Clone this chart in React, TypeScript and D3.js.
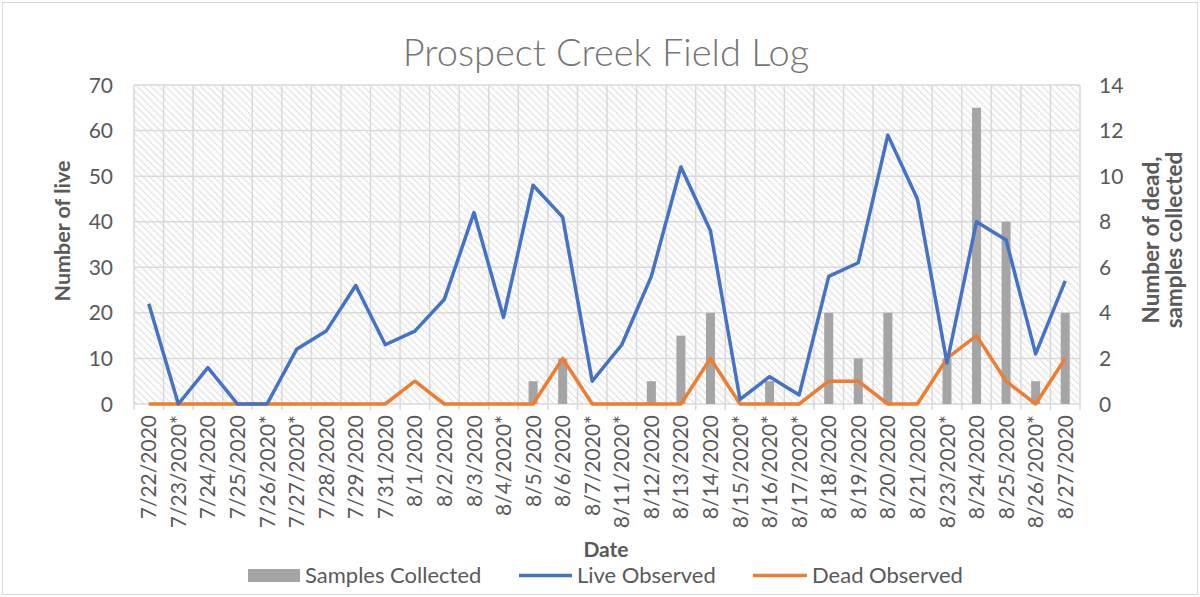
import React from "react";
import * as d3 from "d3";

// chart values
const dates = [
  "7/22/2020", "7/23/2020*", "7/24/2020", "7/25/2020", "7/26/2020*", "7/27/2020*",
  "7/28/2020", "7/29/2020", "7/31/2020", "8/1/2020", "8/2/2020", "8/3/2020",
  "8/4/2020*", "8/5/2020", "8/6/2020", "8/7/2020*", "8/11/2020*", "8/12/2020",
  "8/13/2020", "8/14/2020", "8/15/2020*", "8/16/2020*", "8/17/2020*", "8/18/2020",
  "8/19/2020", "8/20/2020", "8/21/2020", "8/23/2020*", "8/24/2020", "8/25/2020",
  "8/26/2020*", "8/27/2020",
];
const liveObserved = [
  22, 0, 8, 0, 0, 12, 16, 26, 13, 16, 23, 42, 19, 48, 41, 5,
  13, 28, 52, 38, 1, 6, 2, 28, 31, 59, 45, 9, 40, 36, 11, 27,
];
const deadObserved = [
  0, 0, 0, 0, 0, 0, 0, 0, 0, 1, 0, 0, 0, 0, 2, 0,
  0, 0, 0, 2, 0, 0, 0, 1, 1, 0, 0, 2, 3, 1, 0, 2,
];
const samplesCollected = [
  0, 0, 0, 0, 0, 0, 0, 0, 0, 0, 0, 0, 0, 1, 2, 0,
  0, 1, 3, 4, 0, 1, 0, 4, 2, 4, 0, 2, 13, 8, 1, 4,
];
const leftTicks = [0, 10, 20, 30, 40, 50, 60, 70];
const rightTicks = [0, 2, 4, 6, 8, 10, 12, 14];

const W = 1200;
const H = 597;
const plot = { left: 134, right: 1080, top: 85, bottom: 404 };
const FONT = "Lato, 'Open Sans', sans-serif";
const TEXT = "#595959";
const GRID = "#d9d9d9";

export default function App() {
  const x = d3.scaleBand().domain(dates).range([plot.left, plot.right]).padding(0);
  const yLeft = d3.scaleLinear().domain([0, 70]).range([plot.bottom, plot.top]);
  const yRight = d3.scaleLinear().domain([0, 14]).range([plot.bottom, plot.top]);
  const cx = (d: string) => (x(d) as number) + x.bandwidth() / 2;

  const liveLine = d3
    .line<number>()
    .x((_, i) => cx(dates[i]))
    .y((v) => yLeft(v));
  const deadLine = d3
    .line<number>()
    .x((_, i) => cx(dates[i]))
    .y((v) => yRight(v));

  const barW = 9;
  const boundaries = d3.range(dates.length + 1).map((i) => plot.left + i * x.step());

  return (
    <svg
      width={W}
      height={H}
      style={{ position: "absolute", left: 0, top: 0, background: "#fff" }}
      fontFamily={FONT}
    >
      <defs>
        <pattern
          id="hatch"
          width={5}
          height={5}
          patternUnits="userSpaceOnUse"
          patternTransform="rotate(-45)"
        >
          <line x1={1} y1={0} x2={1} y2={5} stroke="#d2d2d2" strokeWidth={1.4} strokeDasharray="1.5 1" />
        </pattern>
      </defs>

      {/* chart frame */}
      <rect x={2.5} y={2.5} width={W - 5} height={H - 5} fill="#fff" stroke={GRID} strokeWidth={1} />

      {/* title */}
      <text x={606} y={66} textAnchor="middle" fontSize={38} fontWeight={300} fill="#757575">
        Prospect Creek Field Log
      </text>

      {/* plot background */}
      <rect
        x={plot.left}
        y={plot.top}
        width={plot.right - plot.left}
        height={plot.bottom - plot.top}
        fill="url(#hatch)"
      />

      {/* gridlines */}
      {leftTicks.map((t) => (
        <line key={"h" + t} x1={plot.left} x2={plot.right} y1={yLeft(t)} y2={yLeft(t)} stroke={GRID} strokeWidth={1.5} />
      ))}
      {boundaries.map((bx, i) => (
        <line key={"v" + i} x1={bx} x2={bx} y1={plot.top} y2={plot.bottom + 6} stroke={GRID} strokeWidth={1.5} />
      ))}

      {/* bars */}
      {samplesCollected.map((v, i) =>
        v > 0 ? (
          <rect
            key={"b" + i}
            x={cx(dates[i]) - barW / 2}
            y={yRight(v)}
            width={barW}
            height={plot.bottom - yRight(v)}
            fill="#a5a5a5"
          />
        ) : null
      )}

      {/* lines */}
      <path d={deadLine(deadObserved) || ""} fill="none" stroke="#ed7d31" strokeWidth={3.5} strokeLinejoin="round" />
      <path d={liveLine(liveObserved) || ""} fill="none" stroke="#4472c4" strokeWidth={3.5} strokeLinejoin="round" />

      {/* left axis */}
      {leftTicks.map((t) => (
        <text key={"l" + t} x={113} y={yLeft(t)} dy="0.36em" textAnchor="end" fontSize={21} fill={TEXT}>
          {t}
        </text>
      ))}
      <text
        transform={`translate(62,231) rotate(-90)`}
        dy="0.35em"
        textAnchor="middle"
        fontSize={21.5}
        fontWeight={700}
        fill={TEXT}
      >
        Number of live
      </text>

      {/* right axis */}
      {rightTicks.map((t) => (
        <text key={"r" + t} x={1099} y={yRight(t)} dy="0.36em" textAnchor="start" fontSize={21} fill={TEXT}>
          {t}
        </text>
      ))}
      <text
        transform={`translate(1151,240) rotate(-90)`}
        textAnchor="middle"
        fontSize={22.5}
        fontWeight={700}
        fill={TEXT}
      >
        <tspan x={0} dy="0.35em">Number of dead,</tspan>
        <tspan x={0} dy="1.05em">samples collected</tspan>
      </text>

      {/* x axis */}
      {dates.map((d) => (
        <text
          key={d}
          transform={`translate(${cx(d)},415) rotate(-90)`}
          dy="0.36em"
          textAnchor="end"
          fontSize={21}
          fill={TEXT}
        >
          {d}
        </text>
      ))}
      <text x={606} y={557} textAnchor="middle" fontSize={21} fontWeight={700} fill={TEXT}>
        Date
      </text>

      {/* legend */}
      <rect x={248} y={569} width={52} height={13} fill="#a5a5a5" />
      <text x={305} y={583} fontSize={22} fill={TEXT}>Samples Collected</text>
      <line x1={519} x2={572} y1={575.5} y2={575.5} stroke="#4472c4" strokeWidth={3.5} />
      <text x={577} y={583} fontSize={22} fill={TEXT}>Live Observed</text>
      <line x1={753} x2={807} y1={575.5} y2={575.5} stroke="#ed7d31" strokeWidth={3.5} />
      <text x={812} y={583} fontSize={22} fill={TEXT}>Dead Observed</text>
    </svg>
  );
}
